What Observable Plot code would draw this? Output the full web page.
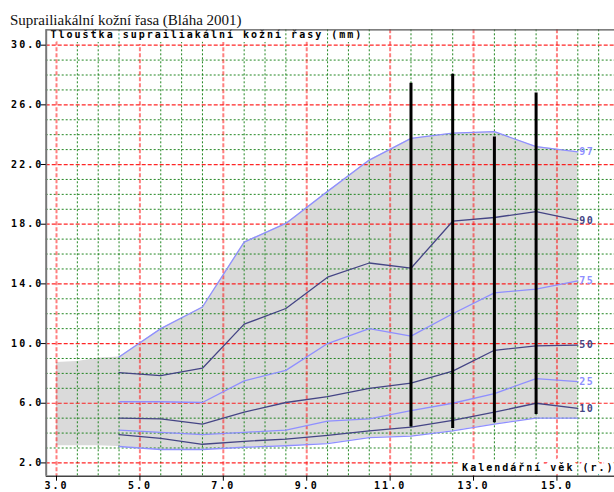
<!DOCTYPE html>
<html>
<head>
<meta charset="utf-8">
<script src="https://cdn.jsdelivr.net/npm/d3@7"></script>
<script src="https://cdn.jsdelivr.net/npm/@observablehq/plot@0.6"></script>
<style>
  html, body { margin: 0; padding: 0; background: #fff; overflow: hidden; }
</style>
</head>
<body>
<div id="chart"></div>
<script>
// Ages (years) at which the percentile curves are tabulated
const ages = [4.5, 5.5, 6.5, 7.5, 8.5, 9.5, 10.5, 11.5, 12.5, 13.5, 14.5, 15.5];

// Skinfold thickness (mm) by percentile
const p97 = [9.1, 11.0, 12.45, 16.8, 18.05, 20.2, 22.3, 23.75, 24.1, 24.2, 23.2, 22.85];
const p90 = [8.05, 7.85, 8.35, 11.3, 12.35, 14.45, 15.4, 15.05, 18.2, 18.45, 18.85, 18.25];
const p75 = [6.1, 6.1, 6.05, 7.5, 8.2, 10.0, 11.0, 10.5, 12.0, 13.4, 13.65, 14.2];
const p50 = [5.0, 4.95, 4.6, 5.4, 6.05, 6.45, 7.0, 7.35, 8.15, 9.55, 9.85, 9.9];
const p25 = [4.2, 4.05, 3.9, 4.05, 4.2, 4.8, 4.95, 5.5, 6.0, 6.65, 7.65, 7.45];
const p10 = [3.9, 3.65, 3.25, 3.45, 3.6, 3.85, 4.15, 4.4, 4.85, 5.4, 6.0, 5.65];
const p3  = [3.1, 2.9, 2.9, 3.05, 3.15, 3.3, 3.7, 3.8, 4.15, 4.6, 5.0, 5.0];

// Shaded reference range before the first tabulated age
const leadAges = [3.0, 3.5, 4.0];
const leadHigh = [8.73, 8.8, 9.02];
const leadLow  = [3.15, 3.15, 3.15];

// Individual measurement ranges (vertical bars)
const barAges = [11.5, 12.5, 13.5, 14.5];
const barLow  = [4.4, 4.3, 4.7, 5.25];
const barHigh = [27.45, 28.05, 23.85, 26.8];

// Axis ticks
const xTicks = [3, 5, 7, 9, 11, 13, 15];
const yTicks = [2, 6, 10, 14, 18, 22, 26, 30];

const titleText = "Suprailiakální kožní řasa (Bláha 2001)";
const yLabel = "Tloušťka suprailiakální kožní řasy (mm)";
const xLabel = "Kalendářní věk (r.)";

const LIGHT = "#8f8fff";
const DARK = "#454585";

const curves = [
  {name: "97", values: p97, color: LIGHT, labelled: true},
  {name: "90", values: p90, color: DARK, labelled: true},
  {name: "75", values: p75, color: LIGHT, labelled: true},
  {name: "50", values: p50, color: DARK, labelled: true},
  {name: "25", values: p25, color: LIGHT, labelled: true},
  {name: "10", values: p10, color: DARK, labelled: true},
  {name: "3",  values: p3,  color: LIGHT, labelled: false}
];

const xDomain = [2.753, 16.38];
const yDomain = [1.11, 31.03];

// Band between P3 and P97, extended to the left with the lead range
const band = [
  ...leadAges.map((a, i) => ({age: a, low: leadLow[i], high: leadHigh[i]})),
  ...ages.map((a, i) => ({age: a, low: p3[i], high: p97[i]}))
];

const bars = barAges.map((a, i) => ({age: a, low: barLow[i], high: barHigh[i]}));

const xMinor = d3.range(3, xDomain[1], 0.5).filter(v => !xTicks.includes(v));
const yMinor = d3.range(2, Math.floor(yDomain[1])).filter(v => !yTicks.includes(v));

const curveMarks = curves.flatMap(c => {
  const pts = ages.map((a, i) => ({age: a, value: c.values[i]}));
  const marks = [
    Plot.line(pts, {x: "age", y: "value", stroke: c.color, strokeWidth: 1.3})
  ];
  if (c.labelled) {
    marks.push(Plot.text([pts[pts.length - 1]], {
      x: "age", y: "value", text: () => c.name,
      textAnchor: "start", dx: 1.5, fill: c.color,
      fontSize: 10, fontWeight: "bold"
    }));
  }
  return marks;
});

const chart = Plot.plot({
  width: 614,
  height: 492,
  marginTop: 29.3,
  marginLeft: 45.7,
  marginRight: 0,
  marginBottom: 16.3,
  x: {domain: xDomain},
  y: {domain: yDomain},
  style: {
    background: "#fff",
    fontFamily: "'DejaVu Sans Mono', monospace",
    fontSize: "10px",
    fontWeight: "bold",
    overflow: "visible"
  },
  marks: [
    // grey reference band
    Plot.areaY(band, {x: "age", y1: "low", y2: "high", fill: "#dadada"}),

    // minor grid (green dotted)
    Plot.ruleX(xMinor, {stroke: "#0b7a0b", strokeWidth: 1, strokeDasharray: "2,2", strokeOpacity: 0.9}),
    Plot.ruleY(yMinor, {stroke: "#0b7a0b", strokeWidth: 1, strokeDasharray: "2,2", strokeOpacity: 0.9}),

    // major grid (red dashed)
    Plot.ruleX(xTicks, {stroke: "#ff0000", strokeWidth: 2, strokeDasharray: "4,2", strokeOpacity: 0.5}),
    Plot.ruleY(yTicks, {stroke: "#ff0000", strokeWidth: 1.2, strokeDasharray: "4,2", strokeOpacity: 0.85}),

    // percentile curves and their labels
    ...curveMarks,

    // measurement bars
    Plot.ruleX(bars, {x: "age", y1: "low", y2: "high", stroke: "#000", strokeWidth: 3}),

    // axis titles inside the frame
    Plot.text([yLabel], {
      text: d => d, frameAnchor: "top-left", textAnchor: "start", lineAnchor: "bottom",
      dx: 4.3, dy: 7.7, fill: "#000", stroke: "#fff", strokeWidth: 8,
      strokeLinejoin: "round", paintOrder: "stroke", fontSize: 10
    }),
    Plot.text([xLabel], {
      text: d => d, frameAnchor: "bottom-right", textAnchor: "end", lineAnchor: "bottom",
      dx: 0, dy: -5.7, fill: "#000", stroke: "#fff", strokeWidth: 8,
      strokeLinejoin: "round", paintOrder: "stroke", fontSize: 10
    }),

    // chart title
    Plot.text([titleText], {
      text: d => d, frameAnchor: "top-left", textAnchor: "start", lineAnchor: "bottom",
      dx: -36.2, dy: -5.3, fill: "#111", fontFamily: "'Liberation Serif', serif",
      fontSize: 15, fontWeight: "normal"
    }),

    // frame edges
    Plot.ruleY([yDomain[1]], {stroke: "#555", strokeWidth: 1.3}),
    Plot.ruleY([yDomain[0]], {stroke: "#444", strokeWidth: 1.6}),
    Plot.ruleX([xDomain[0]], {stroke: "#777", strokeWidth: 2}),

    // axes
    Plot.axisY(yTicks, {
      anchor: "left", tickFormat: d => d.toFixed(1), tickSize: 5, tickPadding: -2,
      color: "#000", label: null, fontSize: 10
    }),
    Plot.axisX(xTicks, {
      anchor: "bottom", tickFormat: d => d.toFixed(1), tickSize: 5, tickPadding: 1,
      color: "#000", label: null, fontSize: 10
    })
  ]
});

// Wide fixed-pitch look for the monospace texts; the serif title keeps normal spacing
const labelNames = new Set(curves.map(c => c.name));
d3.select(chart).selectAll("text").each(function () {
  const t = this.textContent;
  let spacing = "2px";
  if (t === titleText) spacing = "0px";
  else if (labelNames.has(t)) spacing = "1.5px";
  this.style.letterSpacing = spacing;
});

document.getElementById("chart").appendChild(chart);
</script>
</body>
</html>
